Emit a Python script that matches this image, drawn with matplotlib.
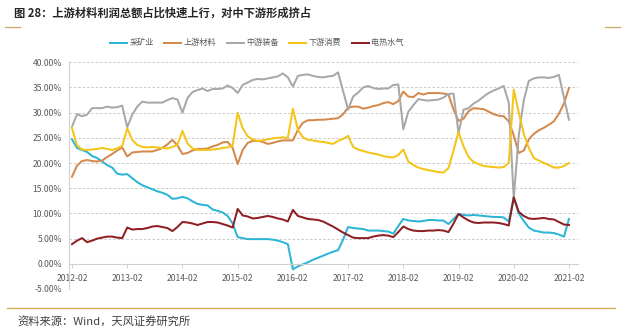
import matplotlib
matplotlib.use("Agg")
import matplotlib.pyplot as plt
from matplotlib.lines import Line2D
import numpy as np

plt.rcParams['font.family'] = ['Noto Sans CJK SC', 'DejaVu Sans']

# ---- data (share of total profit, %) : monthly, Jan merged into Feb ----
tick_labels = ["2012-02", "2013-02", "2014-02", "2015-02", "2016-02",
               "2017-02", "2018-02", "2019-02", "2020-02", "2021-02"]
series_names = ["采矿业", "上游材料", "中游装备", "下游消费", "电热水气"]

mining = [
    24.7, 23.0, 22.6, 22.2, 21.4, 21.0, 20.3, 19.6, 19.1, 17.9, 17.7,
    17.8, 17.0, 16.2, 15.6, 15.2, 14.8, 14.4, 14.1, 13.7, 12.9, 13.0,
    13.3, 13.0, 12.4, 11.9, 11.7, 11.6, 10.8, 10.5, 10.2, 9.5, 8.0,
    5.3, 5.1, 4.9, 4.9, 4.9, 4.9, 4.9, 4.8, 4.6, 4.3, 3.9,
    -1.1, -0.5, -0.1, 0.3, 0.8, 1.2, 1.6, 2.0, 2.4, 2.7, 4.8,
    7.3, 7.1, 7.0, 6.9, 6.6, 6.6, 6.6, 6.5, 6.4, 6.0, 7.5,
    8.9, 8.6, 8.5, 8.4, 8.5, 8.7, 8.7, 8.6, 8.6, 7.9, 8.9,
    9.9, 9.7, 9.6, 9.7, 9.6, 9.5, 9.4, 9.3, 9.3, 9.2, 8.4,
    13.1, 10.0, 8.5, 7.2, 6.6, 6.4, 6.2, 6.2, 6.1, 5.8, 5.4,
    8.9]
upstream = [
    17.3, 19.5, 20.4, 20.6, 20.4, 20.3, 20.5, 21.2, 21.8, 22.5, 23.1,
    21.3, 22.1, 22.2, 22.3, 22.3, 22.3, 22.6, 23.0, 23.7, 24.6, 23.5,
    21.8, 22.0, 22.5, 22.8, 22.8, 22.9, 23.3, 23.6, 24.1, 24.2, 23.0,
    19.8, 22.6, 24.0, 24.4, 24.4, 24.2, 23.8, 24.0, 24.3, 24.5, 24.5,
    24.5, 26.6, 28.0, 28.5, 28.5, 28.6, 28.6, 28.7, 28.8, 28.9, 29.7,
    31.0, 31.2, 31.2, 30.8, 31.0, 31.3, 31.5, 31.9, 32.1, 31.7, 32.3,
    34.2, 33.2, 33.1, 33.9, 33.6, 33.9, 33.9, 33.9, 33.8, 33.6, 30.6,
    28.4, 28.8, 30.3, 30.9, 30.8, 30.7, 30.2, 29.7, 29.4, 29.3, 28.3,
    25.5, 22.0, 22.5, 24.7, 25.8, 26.5, 27.0, 27.6, 28.3, 29.8, 31.8,
    34.9]
midstream = [
    27.2, 29.7, 29.3, 29.6, 30.9, 30.9, 30.9, 31.2, 31.0, 31.1, 31.4,
    27.1, 29.6, 31.2, 32.2, 32.0, 32.0, 32.0, 32.0, 32.5, 32.9, 32.6,
    30.0, 32.9, 34.1, 34.5, 34.8, 34.3, 34.7, 34.7, 34.8, 35.4, 34.9,
    33.9, 35.5, 36.0, 36.5, 36.7, 36.6, 36.8, 37.0, 37.2, 37.8, 37.0,
    35.2, 37.3, 37.5, 37.6, 37.3, 37.1, 37.0, 37.2, 37.3, 38.0, 34.3,
    30.6, 33.2, 34.0, 35.0, 35.3, 34.9, 34.7, 34.8, 34.8, 35.5, 35.6,
    26.7, 30.2, 31.5, 32.7, 32.5, 32.4, 32.5, 32.6, 33.0, 33.7, 33.8,
    25.9, 30.6, 30.9, 31.8, 32.4, 33.2, 33.9, 34.4, 34.8, 35.3, 32.0,
    13.0, 25.5, 32.5, 36.3, 36.8, 37.0, 37.0, 36.9, 37.1, 37.5, 33.0,
    28.6]
downstream = [
    26.9, 23.5, 22.7, 22.6, 22.7, 22.8, 23.0, 22.8, 22.6, 22.9, 23.4,
    26.9, 24.6, 23.6, 23.2, 23.1, 23.2, 23.1, 23.0, 22.9, 23.2, 23.6,
    26.4, 23.9, 22.9, 22.6, 22.6, 22.6, 22.7, 22.8, 23.0, 23.1, 23.5,
    30.0, 26.9, 25.3, 24.7, 24.4, 24.5, 24.7, 24.9, 25.0, 25.1, 25.0,
    30.8, 26.6, 25.1, 24.6, 24.5, 24.3, 24.2, 24.0, 23.8, 24.4, 24.8,
    25.4, 23.2, 22.7, 22.4, 22.1, 21.9, 21.7, 21.4, 21.2, 21.1, 21.6,
    22.7, 20.3, 19.6, 19.1, 18.8, 18.6, 18.4, 18.2, 18.1, 19.0, 22.5,
    26.2, 23.3, 21.2, 20.2, 19.8, 19.4, 19.3, 19.2, 19.1, 19.2, 20.0,
    34.6, 30.0, 25.8, 23.0, 21.0, 20.5, 20.0, 19.6, 19.1, 19.1, 19.4,
    20.0]
utilities = [
    3.9, 4.6, 5.1, 4.3, 4.6, 5.0, 5.2, 5.4, 5.4, 5.2, 5.1,
    7.2, 6.8, 6.9, 6.9, 7.1, 7.4, 7.5, 7.3, 7.1, 6.5, 7.3,
    8.3, 8.2, 8.0, 7.7, 8.0, 8.3, 8.3, 8.2, 7.9, 7.6, 7.2,
    10.9, 9.6, 9.4, 9.0, 9.1, 9.3, 9.5, 9.3, 9.0, 8.8, 8.4,
    10.7, 9.5, 9.2, 8.9, 8.8, 8.7, 8.4, 7.9, 7.4, 6.8, 6.2,
    5.7, 5.2, 5.1, 5.1, 5.1, 5.4, 5.6, 5.7, 5.6, 5.3, 6.3,
    7.4, 6.9, 6.6, 6.5, 6.5, 6.6, 6.6, 6.7, 6.6, 6.3, 8.0,
    9.9, 9.2, 8.6, 8.2, 8.1, 8.2, 8.2, 8.2, 8.1, 7.9, 7.6,
    13.2, 10.3, 9.5, 9.0, 8.9, 9.0, 9.1, 8.9, 8.8, 8.3, 7.8,
    7.7]

colors = ["#2DB5D6", "#D4894D", "#A8A8A8", "#F4C419", "#8E1F22"]

# ---- figure ----
W, H = 624, 336
fig = plt.figure(figsize=(W / 100, H / 100), dpi=100)
fig.patch.set_facecolor("white")

left, right, top, bottom = 69, 578, 62.3, 289
ax = fig.add_axes([left / W, 1 - bottom / H, (right - left) / W, (bottom - top) / H])

# spines first (set_position resets tick settings)
ax.spines['bottom'].set_position(('data', 0))
ax.spines['bottom'].set_color("#D0D0D0")
ax.spines['bottom'].set_linewidth(0.8)
ax.spines['left'].set_color("#D0D0D0")
ax.spines['left'].set_linewidth(0.8)
ax.spines['top'].set_visible(False)
ax.spines['right'].set_visible(False)

x = np.arange(len(mining))
for vals, c, name in zip([mining, upstream, midstream, downstream, utilities], colors, series_names):
    ax.plot(x, vals, color=c, lw=1.45, label=name, solid_joinstyle="round")

ax.set_xlim(-0.6, len(mining) + 0.8)
ax.set_ylim(-5, 40)
yt = np.arange(-5, 41, 5)
ax.set_yticks(yt)
ax.set_yticklabels([f"{v:.2f}%" for v in yt], fontsize=6.2, color="#595959")
for v in yt:
    if v != 0:
        ax.axhline(v, color="#C9C9C9", lw=0.7, ls=(0, (2.5, 2)), zorder=0)

tick_pos = [i * 11 for i in range(len(tick_labels))]
ax.set_xticks(tick_pos)
ax.set_xticklabels(tick_labels, fontsize=6.2, color="#595959")
ax.tick_params(axis='x', length=3, width=0.7, color="#D0D0D0", pad=4, labelsize=6.2)
ax.tick_params(axis='y', length=0, pad=5)

# legend
fig.legend(loc="center left", bbox_to_anchor=(110 / W, 1 - 43 / H), ncol=5, frameon=False,
           fontsize=5.9, handlelength=2.1, handletextpad=0.25, columnspacing=1.3,
           labelcolor="#595959", borderaxespad=0, borderpad=0)

# title
fig.text(14 / W, 1 - 13 / H, "图 28：上游材料利润总额占比快速上行，对中下游形成挤占",
         fontsize=8.1, fontweight="bold", color="#262626", va="center", ha="left")
# decorative lines
fig.add_artist(Line2D([5 / W, 20 / W], [1 - 27 / H, 1 - 27 / H], color="#CFA867", lw=0.9))
fig.add_artist(Line2D([605 / W, 620 / W], [1 - 27 / H, 1 - 27 / H], color="#CFA867", lw=0.9))
# bottom separator
fig.add_artist(Line2D([7 / W, 615 / W], [1 - 308 / H, 1 - 308 / H], color="#D4A64E", lw=0.9))
fig.text(17 / W, 1 - 322 / H, "资料来源：Wind，天风证券研究所",
         fontsize=8.1, color="#404040", va="center", ha="left")

fig.savefig("out.png", dpi=100, facecolor="white")
